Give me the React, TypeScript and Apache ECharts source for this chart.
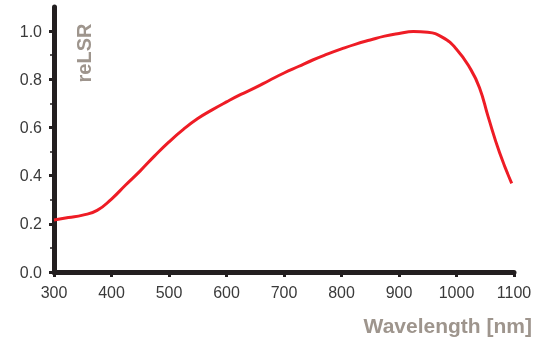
import React, { useEffect, useRef } from "react";
import * as echarts from "echarts";

const wavelengths = [300, 325, 350, 375, 400, 425, 450, 475, 500, 525, 550, 575, 600, 625, 650, 675, 700, 725, 750, 775, 800, 825, 850, 875, 900, 925, 950, 975, 1000, 1025, 1040, 1055, 1075, 1096];
const relsr = [0.216, 0.226, 0.236, 0.256, 0.303, 0.362, 0.42, 0.482, 0.54, 0.592, 0.637, 0.673, 0.706, 0.737, 0.765, 0.796, 0.826, 0.853, 0.88, 0.904, 0.926, 0.946, 0.963, 0.979, 0.99, 0.998, 0.995, 0.975, 0.925, 0.84, 0.765, 0.645, 0.495, 0.368];
const yMajorTicks = [0, 0.2, 0.4, 0.6, 0.8, 1.0];
const yMinorTicks = [0.1, 0.3, 0.5, 0.7, 0.9];
const xTicks = [300, 400, 500, 600, 700, 800, 900, 1000, 1100];
const yTitle = "reLSR";
const xTitle = "Wavelength [nm]";

const FONT = "Liberation Sans, Arial, Helvetica, sans-serif";
const AXIS = "#231f20";
const TITLE = "#9e958d";

export default function App() {
  const ref = useRef<HTMLDivElement>(null);
  useEffect(() => {
    if (!ref.current) return;
    const chart = echarts.init(ref.current, undefined, { renderer: "svg" });
    chart.setOption({
      animation: false,
      grid: { left: 54, right: 24, top: 7, bottom: 71, containLabel: false },
      xAxis: {
        type: "value",
        min: 300,
        max: 1100,
        interval: 100,
        axisLine: { show: true, lineStyle: { color: AXIS, width: 5 } },
        axisTick: { show: true, length: 5, inside: false, lineStyle: { color: AXIS, width: 3 }, customValues: xTicks },
        axisLabel: {
          margin: 12,
          fontSize: 16,
          color: "#3a3a3a",
          fontFamily: FONT,
          customValues: xTicks,
          formatter: (v: number) => String(v),
        },
        splitLine: { show: false },
      },
      yAxis: [
        {
          type: "value",
          min: 0,
          max: 1.1,
          axisLine: { show: true, onZero: false, lineStyle: { color: AXIS, width: 5 } },
          axisTick: { show: true, length: 5, lineStyle: { color: AXIS, width: 3 }, customValues: yMajorTicks },
          axisLabel: {
            margin: 12,
            fontSize: 16,
            color: "#3a3a3a",
            fontFamily: FONT,
            customValues: yMajorTicks,
            formatter: (v: number) => v.toFixed(1),
          },
          splitLine: { show: false },
        },
        {
          type: "value",
          min: 0,
          max: 1.1,
          position: "left",
          axisLine: { show: false },
          axisTick: { show: true, length: 4, lineStyle: { color: AXIS, width: 1.5 }, customValues: yMinorTicks },
          axisLabel: { show: false },
          splitLine: { show: false },
        },
      ],
      graphic: [
        {
          type: "text",
          x: 84,
          y: 53,
          rotation: Math.PI / 2,
          style: {
            text: yTitle,
            font: `bold 20px ${FONT}`,
            fill: TITLE,
            textAlign: "center",
            textVerticalAlign: "middle",
          },
        },
        {
          type: "text",
          x: 532,
          y: 325,
          style: {
            text: xTitle,
            font: `bold 21px ${FONT}`,
            fill: TITLE,
            textAlign: "right",
            textVerticalAlign: "middle",
          },
        },
      ],
      series: [
        {
          type: "line",
          data: wavelengths.map((w, i) => [w, relsr[i]]),
          smooth: 0.5,
          showSymbol: false,
          lineStyle: { color: "#ee1c25", width: 3 },
        },
      ],
    });
    return () => chart.dispose();
  }, []);
  return <div ref={ref} style={{ position: "fixed", left: 0, top: 0, width: 538, height: 343 }} />;
}
